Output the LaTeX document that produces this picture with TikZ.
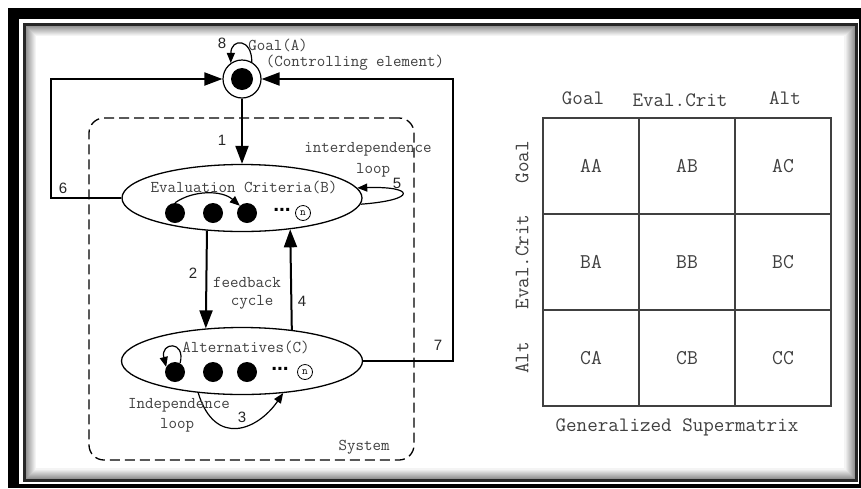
\documentclass[tikz,border=0pt]{standalone}
\usepackage{fontspec}
\newfontfamily\numfont{Liberation Sans}
\usetikzlibrary{shapes.geometric,arrows.meta}
\tikzset{
  lbl/.style={font=\ttfamily\fontsize{16.5}{18}\selectfont, text=black!75, inner sep=0},
  num/.style={font=\numfont\fontsize{15}{16}\selectfont, text=black!85, inner sep=0},
  mlbl/.style={font=\ttfamily\fontsize{20.5}{22}\selectfont, text=black!75, inner sep=0},
  arr/.style={line width=2pt, -{Triangle[length=18pt,width=13pt]}},
  sarr/.style={line width=1.2pt, -{Triangle[length=10pt,width=8pt]}},
  ell/.style={ellipse, draw, line width=1.3pt, inner sep=0},
  disc/.style={circle, fill=black, minimum size=20pt, inner sep=0},
  ncirc/.style={circle, draw, line width=0.8pt, minimum size=15pt, inner sep=0, font=\ttfamily\fontsize{11}{11}\selectfont},
  dots/.style={font=\numfont\bfseries\fontsize{21}{21}\selectfont, inner sep=0},
  cell/.style={draw=black!75, line width=1.2pt, minimum size=96pt, inner sep=0, font=\ttfamily\fontsize{21}{22}\selectfont, text=black!75},
}
\begin{document}
\begin{tikzpicture}[x=1pt,y=-1pt]
\useasboundingbox (0,0) rectangle (861,488);
% frame
\fill[white] (0,0) rectangle (861,488);
\fill[black] (8,8) rectangle (861,488);
\fill[white] (19,19) rectangle (859,484);
\draw[black!85, line width=3pt] (24.5,24.5) rectangle (856,480);
\foreach \i in {0,...,9} {
  \pgfmathsetmacro\g{42-4.2*\i}
  \draw[black!\g, line width=1.1pt] (26.5+\i,26.5+\i) rectangle (854-\i,478-\i);
}

% system box
\node[draw, dashed, dash pattern=on 10pt off 5pt, line width=1.3pt, rounded corners=15pt,
      minimum width=325pt, minimum height=342pt, inner sep=0] (sys) at (251.5,289) {};
\node[lbl] (systxt) at (364,447) {System};

% goal
\node[circle, draw, line width=1.2pt, minimum size=38pt, inner sep=0] (g) at (242,79) {};
\node[circle, fill=black, minimum size=22pt, inner sep=0] (gc) at (g.center) {};
\node[num] (l8) at (222,43) {8};
\node[lbl] (goaltxt) at (278,45) {Goal(A)};
\node[lbl] (ctrl) at (355,63) {(Controlling element)};
\draw[sarr] (g.60) .. controls (252,38) and (231,38) .. (g.125);

% evaluation criteria
\node[ell, minimum width=240pt, minimum height=67pt] (eB) at (242,198) {};
\node[lbl] (ecl) at (244,187) {Evaluation Criteria(B)};
\node[disc] (b1) at (175,213) {};
\node[disc] (b2) at (213,213) {};
\node[disc] (b3) at (247,213) {};
\node[dots] (bd) at (282,210) {...};
\node[ncirc] (bn) at (303,213) {n};
\draw[sarr] (b1.north) .. controls (193,190) and (222,190) .. (b3.north west);

% alternatives
\node[ell, minimum width=241pt, minimum height=67pt] (aC) at (242,361) {};
\node[lbl] (acl) at (246,347) {Alternatives(C)};
\node[disc] (c1) at (175,372) {};
\node[disc] (c2) at (213,372) {};
\node[disc] (c3) at (247,372) {};
\node[dots] (cd) at (280,369) {...};
\node[ncirc] (cn) at (305,372) {n};
\draw[sarr] (c1.60) .. controls (186,340) and (160,342) .. (c1.150);

% connectors
\draw[arr] (g.south) -- (eB.north);
\node[num] (l1) at (222,140) {1};

\coordinate (c6) at (51,79);
\draw[arr] (eB.west) -| (c6) -- (g.west);
\node[num] (l6) at (63,188) {6};

\coordinate (c7) at (453,79);
\draw[arr] (aC.east) -| (c7) -- (g.east);
\node[num] (l7) at (438,345) {7};

\draw[arr] (eB.223) -- (aC.138);
\node[num] (l2) at (193,273) {2};
\draw[arr] (aC.32) -- (eB.-33);
\node[num] (l4) at (302,301) {4};
\node[lbl] (fb) at (247,282) {feedback};
\node[lbl] (cy) at (252,302) {cycle};

\draw[sarr] (eB.-3) .. controls (418,200) and (415,186) .. (eB.5);
\node[num] (l5) at (397,183) {5};
\node[lbl] (idl1) at (368,149) {interdependence};
\node[lbl] (idl2) at (373,170) {loop};

\draw[sarr] (aC.216) .. controls (215,448) and (258,430) .. (aC.322);
\node[num] (l3) at (242,417) {3};
\node[lbl] (il1) at (179,405) {Independence};
\node[lbl] (il2) at (177,425) {loop};

% supermatrix
\node[cell] (AA) at (591,166) {AA};
\node[cell] (AB) at (687,166) {AB};
\node[cell] (AC) at (783,166) {AC};
\node[cell] (BA) at (591,262) {BA};
\node[cell] (BB) at (687,262) {BB};
\node[cell] (BC) at (783,262) {BC};
\node[cell] (CA) at (591,358) {CA};
\node[cell] (CB) at (687,358) {CB};
\node[cell] (CC) at (783,358) {CC};
\node[mlbl] (h1) at (583,98) {Goal};
\node[mlbl] (h2) at (680,100) {Eval.Crit};
\node[mlbl] (h3) at (785,98) {Alt};
\node[mlbl, rotate=90] (r1) at (522,162) {Goal};
\node[mlbl, rotate=90] (r2) at (522,262) {Eval.Crit};
\node[mlbl, rotate=90] (r3) at (522,358) {Alt};
\node[mlbl] (gs) at (677,427) {Generalized Supermatrix};
\end{tikzpicture}
\end{document}
